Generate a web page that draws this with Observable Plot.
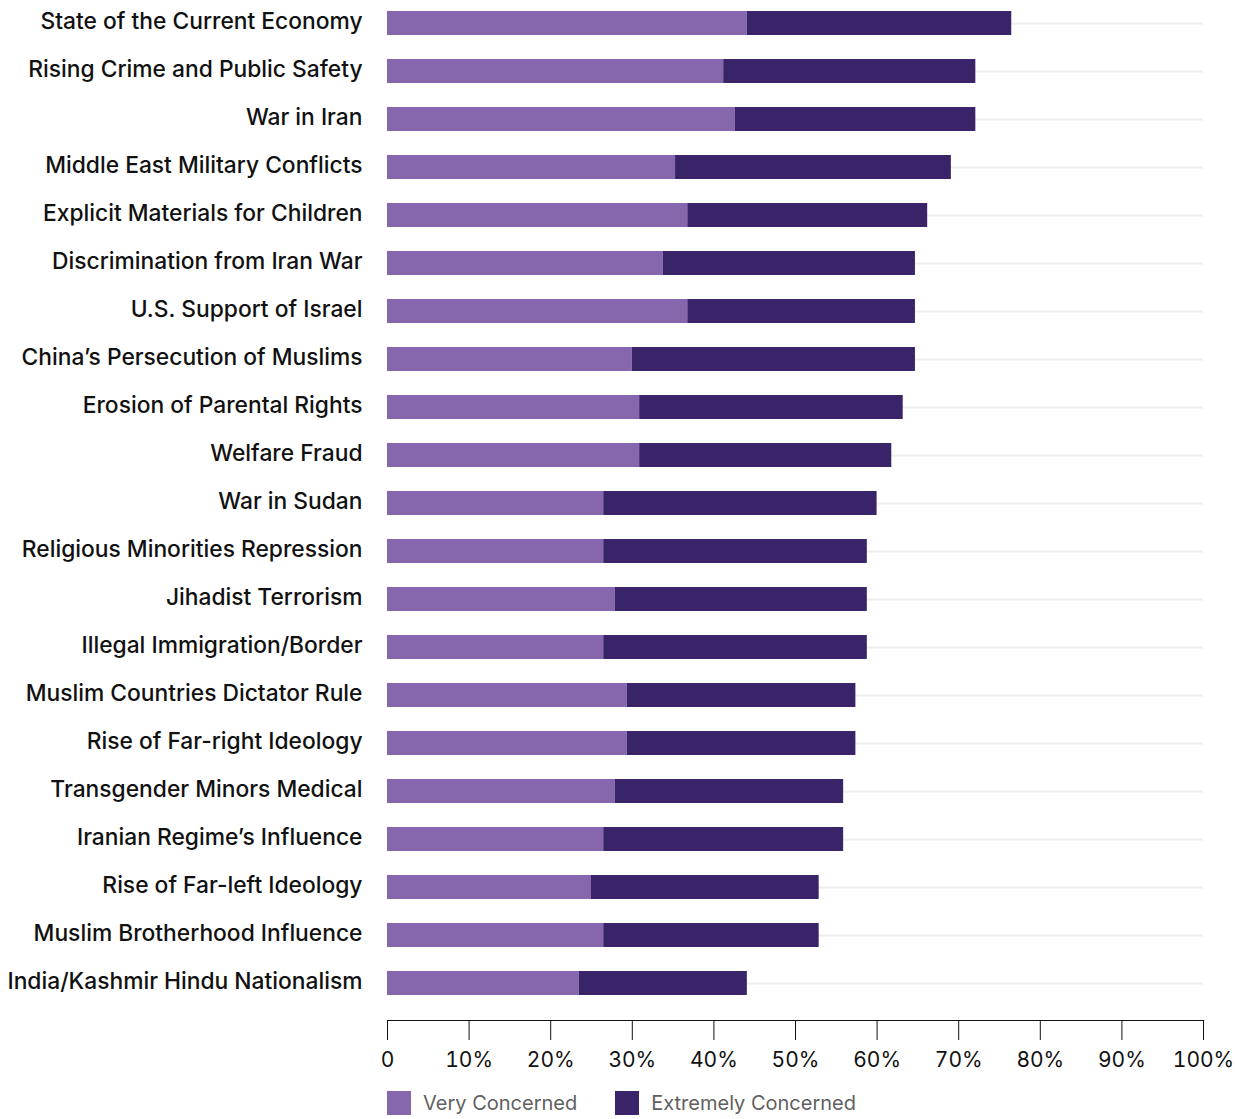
<!DOCTYPE html>
<html>
<head>
<meta charset="utf-8">
<script src="https://cdn.jsdelivr.net/npm/d3@7"></script>
<script src="https://cdn.jsdelivr.net/npm/@observablehq/plot@0.6"></script>
<style>
  body { margin: 0; background: #fff; font-family: Inter, "Noto Sans", sans-serif; }
  #chart svg { display: block; overflow: visible; }
  .legend { display: flex; align-items: center; margin-left: 387px; margin-top: 6px; font-size: 20px; color: #5f5f5f; }
  .legend .item { display: flex; align-items: center; margin-right: 38px; }
  .legend .swatch { width: 24px; height: 24px; margin-right: 12px; }
</style>
</head>
<body>
<div id="chart"></div>
<div class="legend" id="legend"></div>
<script>
// Survey topics, in display order (top to bottom)
const categories = [
  "State of the Current Economy",
  "Rising Crime and Public Safety",
  "War in Iran",
  "Middle East Military Conflicts",
  "Explicit Materials for Children",
  "Discrimination from Iran War",
  "U.S. Support of Israel",
  "China’s Persecution of Muslims",
  "Erosion of Parental Rights",
  "Welfare Fraud",
  "War in Sudan",
  "Religious Minorities Repression",
  "Jihadist Terrorism",
  "Illegal Immigration/Border",
  "Muslim Countries Dictator Rule",
  "Rise of Far-right Ideology",
  "Transgender Minors Medical",
  "Iranian Regime’s Influence",
  "Rise of Far-left Ideology",
  "Muslim Brotherhood Influence",
  "India/Kashmir Hindu Nationalism"
];

// Share of respondents (%) per concern level
const veryConcerned = [44.1, 41.2, 42.6, 35.3, 36.8, 33.8, 36.8, 30.0, 30.9, 30.9, 26.5, 26.5, 27.9, 26.5, 29.4, 29.4, 27.9, 26.5, 25.0, 26.5, 23.5];
const extremelyConcerned = [32.4, 30.9, 29.5, 33.8, 29.4, 30.9, 27.9, 34.7, 32.3, 30.9, 33.5, 32.3, 30.9, 32.3, 28.0, 28.0, 28.0, 29.4, 27.9, 26.4, 20.6];

const seriesNames = ["Very Concerned", "Extremely Concerned"];
const seriesColors = ["#8667ad", "#3a2469"];
const xTicks = [0, 10, 20, 30, 40, 50, 60, 70, 80, 90, 100];

const rows = categories.flatMap((topic, i) => [
  {topic, level: seriesNames[0], value: veryConcerned[i]},
  {topic, level: seriesNames[1], value: extremelyConcerned[i]}
]);

const chart = Plot.plot({
  width: 1235,
  height: 1085,
  marginLeft: 387,
  marginRight: 32,
  marginTop: 5,
  marginBottom: 65,
  style: {fontFamily: "Inter, 'Noto Sans', sans-serif", color: "#111", background: "#fff"},
  x: {domain: [0, 100], label: null},
  y: {domain: categories, type: "band", paddingInner: 0.5, paddingOuter: 0.125, insetBottom: 19, label: null},
  color: {domain: seriesNames, range: seriesColors},
  marks: [
    // faint guide through each row
    Plot.ruleY(categories, {x1: 0, x2: 100, stroke: "#eeeeee", strokeWidth: 2}),
    Plot.barX(rows, Plot.stackX({y: "topic", x: "value", fill: "level", order: seriesNames})),
    Plot.frame({anchor: "bottom", stroke: "#111", strokeWidth: 1.2}),
    Plot.axisX({
      ticks: xTicks,
      tickSize: 20,
      tickPadding: 12,
      fontSize: 21,
      stroke: "#111",
      tickFormat: d => d === 0 ? "0" : d + "%",
      label: null
    }),
    Plot.axisY({tickSize: 0, tickPadding: 25, fontSize: 22.8, fontWeight: 500, dy: -2, label: null})
  ]
});

document.getElementById("chart").appendChild(chart);

const legend = d3.select("#legend");
seriesNames.forEach((name, i) => {
  const item = legend.append("div").attr("class", "item");
  item.append("div").attr("class", "swatch").style("background", seriesColors[i]);
  item.append("span").text(name);
});
</script>
</body>
</html>
